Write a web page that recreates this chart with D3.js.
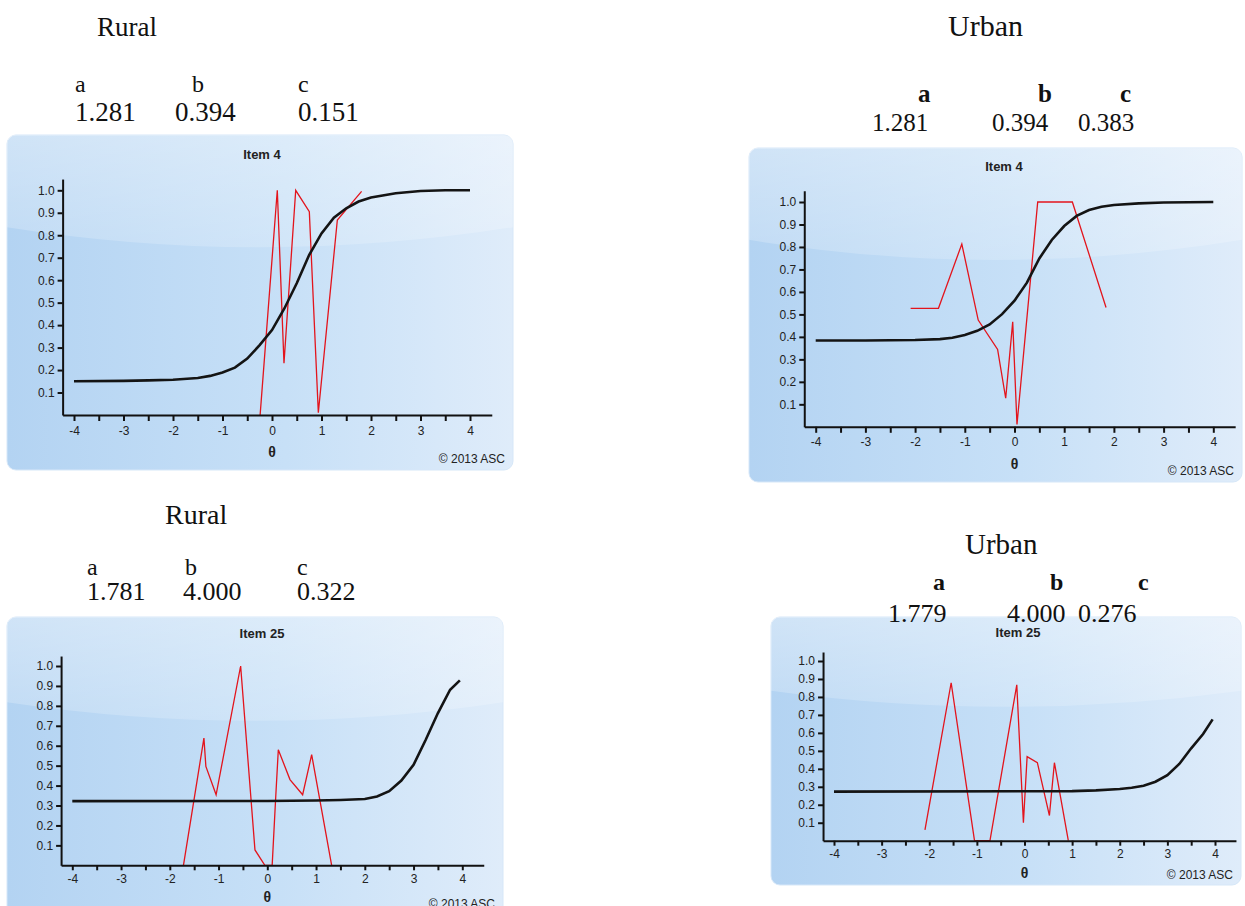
<!DOCTYPE html>
<html>
<head>
<meta charset="utf-8">
<script src="https://cdnjs.cloudflare.com/ajax/libs/d3/7.8.5/d3.min.js"></script>
<style>
  body { margin: 0; background: #fff; }
  svg { display: block; }
  .tick text { font-family: 'Liberation Sans', Arial, sans-serif; font-size: 12px; fill: #222; }
  .axis path, .axis line { stroke: #111; stroke-width: 2; }
  .hdr { font-family: 'Liberation Serif', 'Times New Roman', serif; fill: #111; }
</style>
</head>
<body>
<script>
const groups = ['Rural', 'Urban', 'Rural', 'Urban'];
const items = ['Item 4', 'Item 4', 'Item 25', 'Item 25'];
const paramNames = ['a', 'b', 'c'];
const paramValues = [
  [1.281, 0.394, 0.151],
  [1.281, 0.394, 0.383],
  [1.781, 4.000, 0.322],
  [1.779, 4.000, 0.276]
];
const thetaTicks = [-4, -3.5, -3, -2.5, -2, -1.5, -1, -0.5, 0, 0.5, 1, 1.5, 2, 2.5, 3, 3.5, 4];
const probTicks = [0.1, 0.2, 0.3, 0.4, 0.5, 0.6, 0.7, 0.8, 0.9, 1.0];

// model curves [theta, p]
const rural4Model = [[-4, 0.150], [-3, 0.152], [-2.5, 0.154], [-2, 0.157], [-1.5, 0.165], [-1.25, 0.174], [-1, 0.189],
  [-0.75, 0.211], [-0.5, 0.251], [-0.25, 0.311], [0, 0.378], [0.25, 0.474], [0.5, 0.586], [0.75, 0.712], [1, 0.808],
  [1.25, 0.878], [1.5, 0.920], [1.75, 0.950], [2, 0.968], [2.5, 0.987], [3, 0.997], [3.5, 1.0], [4, 1.0]];
const urban4Model = [[-4, 0.384], [-3, 0.384], [-2, 0.386], [-1.5, 0.390], [-1.25, 0.396], [-1, 0.408], [-0.75, 0.427],
  [-0.5, 0.455], [-0.25, 0.501], [0, 0.561], [0.25, 0.641], [0.5, 0.749], [0.75, 0.831], [1, 0.893], [1.25, 0.938],
  [1.5, 0.964], [1.75, 0.979], [2, 0.987], [2.5, 0.994], [3, 0.998], [4, 1.0]];
const rural25Model = [[-4, 0.322], [0, 0.323], [1, 0.325], [1.5, 0.328], [2, 0.333], [2.25, 0.345], [2.5, 0.372],
  [2.75, 0.425], [3, 0.504], [3.25, 0.630], [3.5, 0.764], [3.75, 0.881], [3.95, 0.928]];
const urban25Model = [[-4, 0.273], [0, 0.275], [1, 0.276], [1.5, 0.280], [2, 0.288], [2.25, 0.295], [2.5, 0.306],
  [2.75, 0.328], [3, 0.365], [3.25, 0.427], [3.5, 0.514], [3.75, 0.594], [3.95, 0.675]];

// observed proportions [theta, p]
const rural4Observed = [[-0.24, 0.0], [0.107, 1.0], [0.242, 0.23], [0.479, 1.0], [0.754, 0.905], [0.936, 0.01],
  [1.32, 0.868], [1.81, 0.995]];
const urban4Observed = [[-2.09, 0.527], [-1.53, 0.527], [-1.06, 0.813], [-0.73, 0.475], [-0.34, 0.344], [-0.177, 0.127],
  [-0.036, 0.467], [0.05, 0.01], [0.467, 1.0], [1.164, 1.0], [1.842, 0.531]];
const rural25Observed = [[-1.72, 0.0], [-1.30, 0.638], [-1.26, 0.496], [-1.05, 0.354], [-0.547, 1.0], [-0.253, 0.077],
  [-0.05, 0.0], [0.1, 0.0], [0.17, 0.33], [0.226, 0.58], [0.465, 0.43], [0.725, 0.354], [0.91, 0.555], [1.32, 0.0]];
const urban25Observed = [[-2.09, 0.06], [-1.54, 0.879], [-1.05, 0.0], [-0.725, 0.0], [-0.162, 0.867], [-0.023, 0.1],
  [0.055, 0.468], [0.27, 0.434], [0.523, 0.14], [0.628, 0.434], [0.92, 0.0]];

const modelCurves = [rural4Model, urban4Model, rural25Model, urban25Model];
const observedCurves = [rural4Observed, urban4Observed, rural25Observed, urban25Observed];

document.addEventListener('DOMContentLoaded', () => {
  const w = 1245;
  const h = 906;

  // page layout of the four pasted screenshots
  const layout = [
    { box: [7, 135, 506, 335], xr: [74, 470], yr: [415, 190.3], title: [262, 159], pad: 6, copy: 463,
      grp: [97, 36, 27], lettersY: 92, lettersSize: 24, bold: false, numsY: 120.5, numsSize: 27,
      letterX: [75, 192, 298], numX: [75, 175, 298] },
    { box: [749, 148, 493, 334], xr: [815.7, 1213.3], yr: [426.8, 202], title: [1004, 170.5], pad: 6, copy: 475,
      grp: [948, 36, 30], lettersY: 102, lettersSize: 25, bold: true, numsY: 130.7, numsSize: 25,
      letterX: [918, 1038, 1120], numX: [872, 992, 1078] },
    { box: [7, 617, 496, 310], xr: [72.3, 462.3], yr: [865.3, 666], title: [262, 638], pad: 5, copy: 908,
      grp: [165, 524, 28], lettersY: 575, lettersSize: 24, bold: false, numsY: 600, numsSize: 26,
      letterX: [87, 185, 297], numX: [87, 183, 297] },
    { box: [771, 617, 470, 268], xr: [834, 1215], yr: [840.7, 661], title: [1018, 637], pad: 5, copy: 879,
      grp: [965, 554, 29], lettersY: 590, lettersSize: 24, bold: true, numsY: 621.7, numsSize: 26,
      letterX: [933, 1050, 1138], numX: [888, 1007, 1078] }
  ];

  const svg = d3.select('body')
                .append('svg')
                .attr('width', w)
                .attr('height', h);

  const defs = svg.append('defs');
  const boxFill = defs.append('linearGradient').attr('id', 'boxFill')
                      .attr('x1', 0).attr('x2', 1).attr('y1', 0).attr('y2', 0);
  boxFill.append('stop').attr('offset', '0%').attr('stop-color', '#b3d3f2');
  boxFill.append('stop').attr('offset', '55%').attr('stop-color', '#c7e0f7');
  boxFill.append('stop').attr('offset', '100%').attr('stop-color', '#dfecfa');
  const glossFill = defs.append('linearGradient').attr('id', 'glossFill')
                        .attr('x1', 0).attr('x2', 0).attr('y1', 0).attr('y2', 1);
  glossFill.append('stop').attr('offset', '0%').attr('stop-color', '#fff').attr('stop-opacity', 0.38);
  glossFill.append('stop').attr('offset', '100%').attr('stop-color', '#fff').attr('stop-opacity', 0.18);

  layout.forEach((p, i) => {
    const [bx, by, bw, bh] = p.box;
    const g = svg.append('g');

    g.append('rect')
     .attr('x', bx).attr('y', by).attr('width', bw).attr('height', bh)
     .attr('rx', 9)
     .style('fill', 'url(#boxFill)')
     .style('stroke', '#d6e7f8');

    const e = by + bh * 0.275;
    const m = by + bh * 0.335;
    g.append('path')
     .attr('d', 'M' + bx + ',' + (by + 9) + 'Q' + bx + ',' + by + ' ' + (bx + 9) + ',' + by +
                'L' + (bx + bw - 9) + ',' + by + 'Q' + (bx + bw) + ',' + by + ' ' + (bx + bw) + ',' + (by + 9) +
                'L' + (bx + bw) + ',' + e + 'Q' + (bx + bw / 2) + ',' + (2 * m - e) + ' ' + bx + ',' + e + 'Z')
     .style('fill', 'url(#glossFill)');

    const xScale = d3.scaleLinear().domain([-4, 4]).range(p.xr);
    const yScale = d3.scaleLinear().domain([0, 1]).range(p.yr);
    const xAxisScale = xScale.copy().domain([-4.23, 4.44]).range([xScale(-4.23), xScale(4.44)]);
    const yAxisScale = yScale.copy().domain([0, 1.05]).range([yScale(0), yScale(1.05)]);

    const line = d3.line().x((d) => xScale(d[0])).y((d) => yScale(d[1]));

    g.append('path')
     .datum(observedCurves[i])
     .attr('d', line)
     .style('fill', 'none')
     .style('stroke', '#e3141c')
     .style('stroke-width', 1.3)
     .style('stroke-linejoin', 'miter');

    g.append('path')
     .datum(modelCurves[i])
     .attr('d', line)
     .style('fill', 'none')
     .style('stroke', '#141414')
     .style('stroke-width', 2.6);

    const xAxis = d3.axisBottom(xAxisScale)
                    .tickValues(thetaTicks)
                    .tickSize(p.pad)
                    .tickPadding(p.pad - 1)
                    .tickSizeOuter(0)
                    .tickFormat((d) => Number.isInteger(d) ? String(d) : '');
    const yAxis = d3.axisLeft(yAxisScale)
                    .tickValues(probTicks)
                    .tickSize(5)
                    .tickPadding(3)
                    .tickSizeOuter(0)
                    .tickFormat(d3.format('.1f'));

    g.append('g')
     .attr('class', 'axis')
     .attr('transform', 'translate(0,' + yScale(0) + ')')
     .call(xAxis);
    g.append('g')
     .attr('class', 'axis')
     .attr('transform', 'translate(' + xAxisScale(-4.23) + ',0)')
     .call(yAxis);

    g.append('text').text(items[i])
     .attr('x', p.title[0]).attr('y', p.title[1])
     .attr('text-anchor', 'middle')
     .style('font', 'bold 13px "Liberation Sans", Arial, sans-serif')
     .style('fill', '#222');

    g.append('text').text('θ')
     .attr('x', xScale(0)).attr('y', yScale(0) + (p.pad === 6 ? 42 : 37))
     .attr('text-anchor', 'middle')
     .style('font', 'bold 14px "Liberation Sans", Arial, sans-serif')
     .style('fill', '#222');

    g.append('text').text('© 2013 ASC')
     .attr('x', bx + bw - 8).attr('y', p.copy)
     .attr('text-anchor', 'end')
     .style('font', '12px "Liberation Sans", Arial, sans-serif')
     .style('fill', '#222');

    // header above each screenshot
    svg.append('text').attr('class', 'hdr').text(groups[i])
       .attr('x', p.grp[0]).attr('y', p.grp[1])
       .style('font-size', p.grp[2] + 'px');

    paramNames.forEach((n, j) => {
      svg.append('text').attr('class', 'hdr').text(n)
         .attr('x', p.letterX[j]).attr('y', p.lettersY)
         .style('font-size', p.lettersSize + 'px')
         .style('font-weight', p.bold ? 'bold' : 'normal');
      svg.append('text').attr('class', 'hdr').text(d3.format('.3f')(paramValues[i][j]))
         .attr('x', p.numX[j]).attr('y', p.numsY)
         .style('font-size', p.numsSize + 'px');
    });
  });
});
</script>
</body>
</html>
